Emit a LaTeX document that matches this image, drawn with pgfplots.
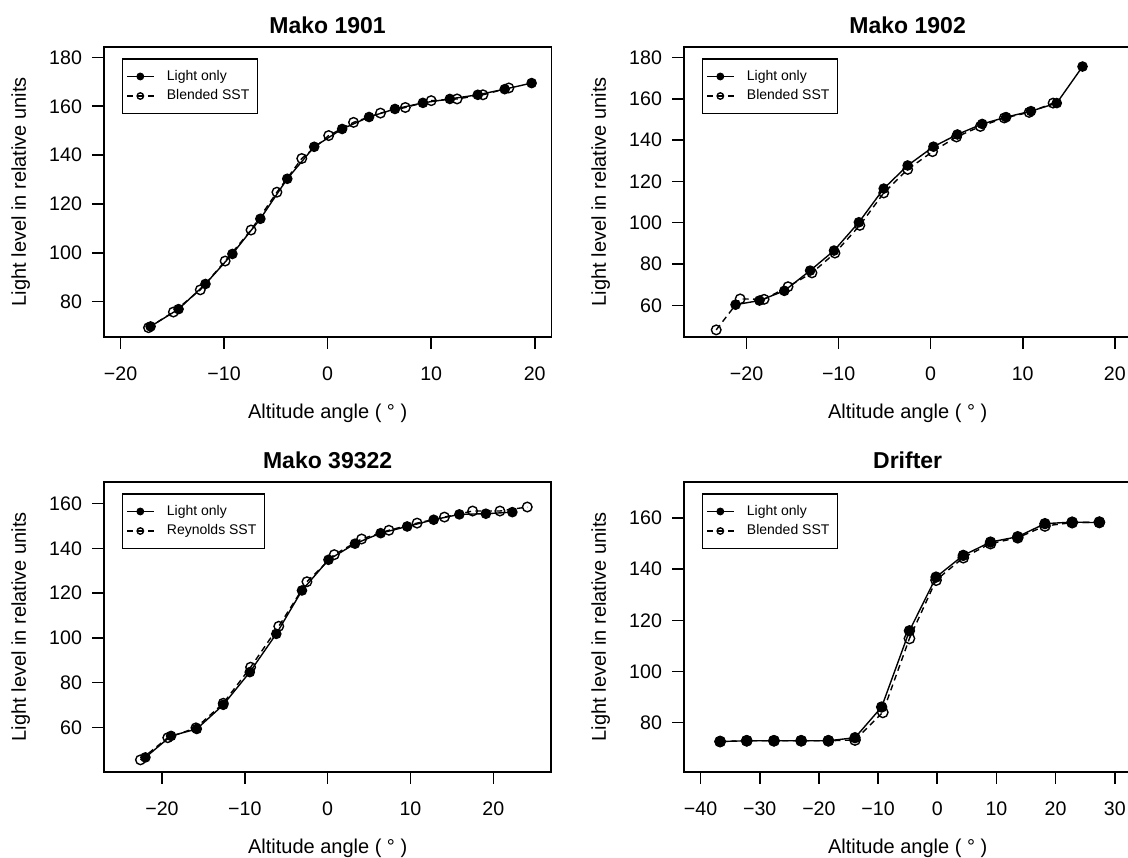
\documentclass[border=0pt]{standalone}
\usepackage{fontspec}
\setmainfont{Liberation Sans}
\usepackage{pgfplots}
\pgfplotsset{compat=1.18}

\pgfplotsset{
  rpanel/.style={
    scale only axis, width=223.65pt, height=145pt,
    axis line style={line width=0.8pt},
    tick align=outside, xtick pos=bottom, ytick pos=left,
    major tick length=6pt,
    every tick/.style={black, line width=0.8pt},
    /pgf/number format/assume math mode=true,
    tick label style={font=\fontsize{9.8}{11}\selectfont},
    xticklabel style={yshift=-5.5pt},
    yticklabel style={anchor=east, xshift=-1.5pt},
    label style={font=\fontsize{10}{12}\selectfont},
    xlabel={Altitude angle ( ° )},
    ylabel={Light level in relative units},
    xlabel style={at={(axis description cs:0.5,0)}, anchor=center, yshift=-38.2pt},
    ylabel style={at={(axis description cs:-0.186,0.5)}, anchor=center},
    title style={font=\bfseries\fontsize{11.5}{13}\selectfont, at={(0.5,1)}, anchor=base, yshift=0.5pt},
    legend style={at={(0.0396,0.96)}, anchor=north west, draw=black, line width=0.6pt,
      font=\fontsize{7}{8}\selectfont, inner xsep=2pt, inner ysep=4.5pt, row sep=1.2pt,
      nodes={inner ysep=1pt},
      /tikz/every odd column/.append style={column sep=4.3pt}},
    legend cell align=left,
    reverse legend,
    legend image code/.code={\draw[mark repeat=2, mark phase=2, mark size=1.6pt]
      plot coordinates {(0pt,0pt) (6.65pt,0pt) (13.3pt,0pt)};},
  },
  lightonly/.style={black, line width=0.7pt, mark=*, mark size=2.3pt, mark options={solid}},
  sst/.style={black, line width=0.7pt, dash pattern=on 3pt off 2.2pt, mark=o, mark size=2.4pt, mark options={solid}},
}

\begin{document}
\begin{tikzpicture}
\useasboundingbox (0,0) rectangle (564pt,-428.5pt);

% Mako 1901
\begin{axis}[rpanel, at={(52pt,-23.35pt)}, anchor=north west,
  title={Mako 1901},
  xmin=-21.6, xmax=21.6, ymin=65.6, ymax=184.4,
  xtick={-20,-10,0,10,20}, xticklabels={−20,−10,0,10,20},
  ytick={80,100,...,180}]
\addplot[sst] coordinates {
  (-17.3,69.3)(-14.9,75.7)(-12.3,84.8)(-9.9,96.6)(-7.4,109.3)(-4.9,124.8)
  (-2.5,138.6)(0.1,148.0)(2.5,153.4)(5.1,157.2)(7.5,159.5)(10.0,162.3)
  (12.5,163.0)(15.0,164.7)(17.5,167.5)};
\addlegendentry{Blended SST}
\addplot[lightonly] coordinates {
  (-17.1,69.8)(-14.4,76.9)(-11.8,87.2)(-9.2,99.5)(-6.5,113.9)(-3.9,130.3)
  (-1.3,143.4)(1.4,150.7)(4.0,155.6)(6.5,158.9)(9.2,161.4)(11.8,163.0)
  (14.5,164.7)(17.1,167.0)(19.7,169.5)};
\addlegendentry{Light only}
\end{axis}

% Mako 1902
\begin{axis}[rpanel, at={(342pt,-23.35pt)}, anchor=north west,
  title={Mako 1902},
  xmin=-26.8, xmax=21.8, ymin=44.8, ymax=185.2,
  xtick={-20,-10,0,10,20}, xticklabels={−20,−10,0,10,20},
  ytick={60,80,...,180}]
\addplot[sst] coordinates {
  (-23.3,48.1)(-20.7,63.1)(-18.1,62.9)(-15.5,69.0)(-12.9,75.7)(-10.4,85.3)
  (-7.7,98.7)(-5.1,114.4)(-2.5,125.8)(0.2,134.4)(2.8,141.5)(5.4,146.6)
  (8.0,150.7)(10.7,153.4)(13.3,157.9)};
\addlegendentry{Blended SST}
\addplot[lightonly] coordinates {
  (-21.2,60.3)(-18.6,62.3)(-15.9,67.0)(-13.1,76.8)(-10.5,86.5)(-7.8,100.2)
  (-5.1,116.5)(-2.5,127.7)(0.3,136.8)(2.9,142.7)(5.6,147.8)(8.2,151.1)
  (10.9,154.0)(13.7,157.9)(16.5,175.6)};
\addlegendentry{Light only}
\end{axis}

% Mako 39322
\begin{axis}[rpanel, at={(52pt,-240.85pt)}, anchor=north west,
  title={Mako 39322},
  xmin=-27, xmax=27, ymin=40.2, ymax=169.8,
  xtick={-20,-10,0,10,20}, xticklabels={−20,−10,0,10,20},
  ytick={60,80,...,160}]
\addplot[sst] coordinates {
  (-22.6,45.5)(-19.3,55.4)(-15.9,59.8)(-12.6,70.8)(-9.3,86.9)(-5.9,105.2)
  (-2.5,125.1)(0.8,137.2)(4.1,144.2)(7.4,148.1)(10.8,151.3)(14.1,154.0)
  (17.5,156.7)(20.8,156.7)(24.1,158.5)};
\addlegendentry{Reynolds SST}
\addplot[lightonly] coordinates {
  (-22.0,46.6)(-18.9,56.2)(-15.8,59.3)(-12.6,70.1)(-9.4,84.7)(-6.2,101.8)
  (-3.1,121.2)(0.1,134.9)(3.3,142.1)(6.4,146.8)(9.6,149.8)(12.8,152.8)
  (15.9,155.2)(19.1,155.5)(22.3,156.2)};
\addlegendentry{Light only}
\end{axis}

% Drifter
\begin{axis}[rpanel, at={(342pt,-240.85pt)}, anchor=north west,
  title={Drifter},
  xmin=-42.8, xmax=32.8, ymin=60.8, ymax=174.2,
  xtick={-40,-30,...,30}, xticklabels={−40,−30,−20,−10,0,10,20,30},
  ytick={80,100,...,160}]
\addplot[sst, mark size=2.6pt] coordinates {
  (-36.7,72.6)(-32.2,72.9)(-27.6,72.9)(-23.0,72.9)(-18.4,72.9)(-13.9,73.2)
  (-9.2,84.0)(-4.7,112.9)(-0.2,135.7)(4.4,144.5)(9.0,150.0)(13.6,152.3)
  (18.2,156.9)(22.8,158.2)(27.4,158.4)};
\addlegendentry{Blended SST}
\addplot[lightonly, mark size=2.5pt] coordinates {
  (-36.7,72.6)(-32.2,72.9)(-27.6,72.9)(-23.0,72.9)(-18.4,72.9)(-13.9,74.1)
  (-9.4,86.1)(-4.7,115.9)(-0.2,136.9)(4.4,145.4)(9.0,150.6)(13.6,152.7)
  (18.2,157.8)(22.8,158.4)(27.4,158.2)};
\addlegendentry{Light only}
\end{axis}
\end{tikzpicture}
\end{document}
